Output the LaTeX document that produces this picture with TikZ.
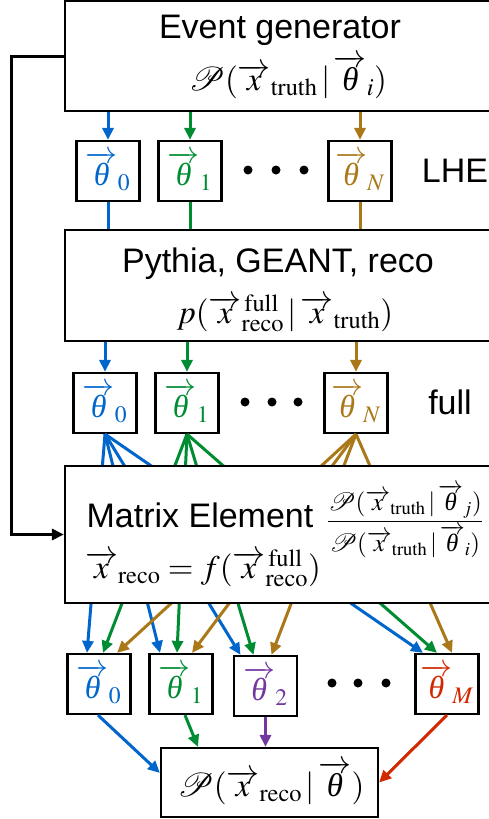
\documentclass[tikz,border=0pt]{standalone}
\usepackage{amsmath}
\usepackage{mathptmx}
\usepackage{mathrsfs}
\DeclareFontFamily{U}{rsfs}{\skewchar\font127 }
\DeclareFontShape{U}{rsfs}{m}{n}{<-> rsfs10}{}
\usepackage{fontspec}
\setmainfont{Liberation Sans}
\setmathrm{Liberation Serif}
\newfontfamily\tnrfont{Liberation Serif}
\newcommand{\vth}{\overrightarrow{\text{\tnrfont\itshape θ}}}
\usetikzlibrary{arrows.meta}
\definecolor{thblue}{RGB}{0,102,204}
\definecolor{thgreen}{RGB}{0,140,50}
\definecolor{thgold}{RGB}{170,120,25}
\definecolor{thpurple}{RGB}{115,55,160}
\definecolor{thred}{RGB}{210,40,0}

\begin{document}
\begin{tikzpicture}[x=1pt,y=-1pt,
  bigbox/.style={draw,line width=2.2pt,minimum width=435,inner sep=0pt,fill=white},
  thbox/.style={draw,line width=2.2pt,minimum width=63,minimum height=60,inner sep=0pt,font=\fontsize{32}{36}\selectfont},
  lbl/.style={font=\fontsize{34}{40}\selectfont},
  mth/.style={font=\fontsize{33}{38}\selectfont},
  flow/.style={line width=3pt,-{Triangle[length=12pt,width=11pt]}},
  link/.style={line width=3pt}]
\useasboundingbox (0,0) rectangle (489,819);
\clip (0,0) rectangle (489,819);

\node[bigbox,minimum height=110] (evgen) at (282.5,56) {};
\node[lbl] (evgentxt) at (280,30) {Event generator};
\node[mth] (evgenf) at (288,77) {$\mathscr{P}(\overrightarrow{x}_{\mathrm{truth}}\,|\,\vth_i)$};

\node[thbox] (l0) at (108,171) {\color{thblue}$\vth_0$};
\node[thbox] (l1) at (190,171) {\color{thgreen}$\vth_1$};
\node[thbox] (lN) at (360,171) {\color{thgold}$\vth_N$};
\fill (248,170) circle (4.5) (276,170) circle (4.5) (304,170) circle (4.5);
\node[lbl] (lhe) at (455,171) {LHE};
\draw[flow,thblue] (l0.north |- evgen.south) -- (l0.north);
\draw[flow,thgreen] (l1.north |- evgen.south) -- (l1.north);
\draw[flow,thgold] (lN.north |- evgen.south) -- (lN.north);

\node[bigbox,minimum height=111] (pyth) at (282.5,285.5) {};
\node[lbl] (pythtxt) at (278,264) {Pythia, GEANT, reco};
\node[mth] (pythf) at (285,313) {$p(\overrightarrow{x}^{\,\mathrm{full}}_{\mathrm{reco}}\,|\,\overrightarrow{x}_{\mathrm{truth}})$};
\draw[link,thblue] (l0.south) -- (l0.south |- pyth.north);
\draw[link,thgreen] (l1.south) -- (l1.south |- pyth.north);
\draw[link,thgold] (lN.south) -- (lN.south |- pyth.north);

\node[thbox] (f0) at (105,403) {\color{thblue}$\vth_0$};
\node[thbox] (f1) at (187,403) {\color{thgreen}$\vth_1$};
\node[thbox] (fN) at (356,403) {\color{thgold}$\vth_N$};
\fill (245,402) circle (4.5) (272,402) circle (4.5) (298,402) circle (4.5);
\node[lbl] (full) at (450,402) {full};
\draw[flow,thblue] (f0.north |- pyth.south) -- (f0.north);
\draw[flow,thgreen] (f1.north |- pyth.south) -- (f1.north);
\draw[flow,thgold] (fN.north |- pyth.south) -- (fN.north);

\node[thbox] (b0) at (99,684) {\color{thblue}$\vth_0$};
\node[thbox] (b1) at (181,684) {\color{thgreen}$\vth_1$};
\node[thbox] (b2) at (265.5,686) {\color{thpurple}$\vth_2$};
\node[thbox] (bM) at (447,684) {\color{thred}$\vth_M$};
\fill (332,683) circle (4.5) (358,683) circle (4.5) (386,683) circle (4.5);

% reweighting, passes behind the matrix element box
\draw[flow,thblue] (f0.south) -- ([xshift=-12pt]b0.north);
\draw[flow,thblue] (f0.south) -- ([xshift=-21pt]b1.north);
\draw[flow,thblue] (f0.south) -- ([xshift=-25pt]b2.north);
\draw[flow,thblue] (f0.south) -- ([xshift=-24pt]bM.north);
\draw[flow,thgreen] (f1.south) -- ([xshift=4pt]b0.north);
\draw[flow,thgreen] (f1.south) -- ([xshift=-4pt]b1.north);
\draw[flow,thgreen] (f1.south) -- ([xshift=-12pt]b2.north);
\draw[flow,thgreen] (f1.south) -- ([xshift=-10pt]bM.north);
\draw[flow,thgold] (fN.south) -- ([xshift=18pt]b0.north);
\draw[flow,thgold] (fN.south) -- ([xshift=11pt]b1.north);
\draw[flow,thgold] (fN.south) -- ([xshift=6pt]b2.north);
\draw[flow,thgold] (fN.south) -- ([xshift=5pt]bM.north);

\node[bigbox,minimum height=137] (mx) at (282.5,534.5) {};
\node[lbl] (mxtxt) at (200,515) {Matrix Element};
\node[mth] (mxf) at (203,568) {$\overrightarrow{x}_{\mathrm{reco}}=f(\overrightarrow{x}^{\,\mathrm{full}}_{\mathrm{reco}})$};
\node[font=\fontsize{25}{30}\selectfont] (ratio) at (405,521) {$\dfrac{\mathscr{P}(\overrightarrow{x}_{\mathrm{truth}}\,|\,\vth_j)}{\mathscr{P}(\overrightarrow{x}_{\mathrm{truth}}\,|\,\vth_i)}$};
\draw[flow] (evgen.west) -- ++(-52,0) |- (mx.west);

\node[draw,line width=2.2pt,minimum width=217,minimum height=69,inner sep=0pt] (fin) at (269.5,782.5) {};
\node[mth] (fintxt) at (271,783) {$\mathscr{P}(\overrightarrow{x}_{\mathrm{reco}}\,|\,\vth)$};
\draw[flow,thblue] ([xshift=-1pt]b0.south) -- ([yshift=9.5pt]fin.west);
\draw[flow,thgreen] ([xshift=4pt]b1.south) -- ([xshift=-71.5pt]fin.north);
\draw[flow,thpurple] (b2.south) -- (b2.south |- fin.north);
\draw[flow,thred] (bM.south) -- (fin.east);
\end{tikzpicture}
\end{document}
